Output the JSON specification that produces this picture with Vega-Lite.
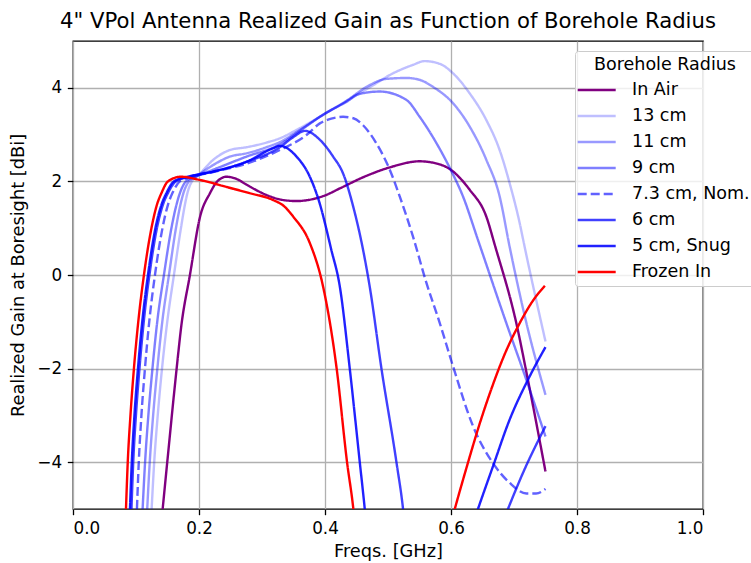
{
  "$schema": "https://vega.github.io/schema/vega-lite/v6.json",
  "width": 630,
  "height": 468,
  "autosize": {"type": "none"},
  "padding": {"left": 73, "top": 41, "right": 48, "bottom": 54},
  "background": "white",
  "title": {
    "text": "4\" VPol Antenna Realized Gain as Function of Borehole Radius",
    "font": "DejaVu Sans",
    "fontSize": 21.2,
    "fontWeight": "normal",
    "color": "black",
    "anchor": "middle",
    "offset": 9
  },
  "config": {
    "view": {"stroke": "black", "strokeWidth": 1.3},
    "axis": {
      "domain": false,
      "grid": true,
      "gridColor": "#b0b0b0",
      "gridWidth": 1.3,
      "ticks": true,
      "tickColor": "black",
      "tickWidth": 1.3,
      "tickSize": 5.7,
      "labelFont": "DejaVu Sans",
      "labelFontSize": 16.8,
      "labelColor": "black",
      "labelPadding": 5.7,
      "titleFont": "DejaVu Sans",
      "titleFontSize": 17.8,
      "titleFontWeight": "normal",
      "titleColor": "black"
    },
    "legend": {
      "orient": "none",
      "legendX": 502,
      "legendY": 10,
      "fillColor": "rgba(255,255,255,0.8)",
      "strokeColor": "#cccccc",
      "cornerRadius": 3,
      "padding": 5,
      "titleFont": "DejaVu Sans",
      "titleFontSize": 17.5,
      "titleFontWeight": "normal",
      "titleColor": "black",
      "titleAnchor": "middle",
      "titlePadding": 5.5,
      "labelFont": "DejaVu Sans",
      "labelFontSize": 17.5,
      "labelColor": "black",
      "labelOffset": 30,
      "symbolType": "M-1.4,0H2.6",
      "symbolSize": 361,
      "symbolStrokeWidth": 2.4,
      "rowPadding": 6.0
    }
  },
  "data": {
    "values": [
      {"s": "In Air", "f": 0.1423, "g": -5.0},
      {"s": "In Air", "f": 0.1496, "g": -4.0},
      {"s": "In Air", "f": 0.1645, "g": -2.0},
      {"s": "In Air", "f": 0.1718, "g": -1.1},
      {"s": "In Air", "f": 0.1856, "g": 0.0},
      {"s": "In Air", "f": 0.2016, "g": 1.24},
      {"s": "In Air", "f": 0.2175, "g": 1.75},
      {"s": "In Air", "f": 0.229, "g": 2.0},
      {"s": "In Air", "f": 0.2438, "g": 2.1},
      {"s": "In Air", "f": 0.26, "g": 2.05},
      {"s": "In Air", "f": 0.2755, "g": 1.93},
      {"s": "In Air", "f": 0.307, "g": 1.71},
      {"s": "In Air", "f": 0.33, "g": 1.61},
      {"s": "In Air", "f": 0.355, "g": 1.58},
      {"s": "In Air", "f": 0.38, "g": 1.62},
      {"s": "In Air", "f": 0.4, "g": 1.7},
      {"s": "In Air", "f": 0.4235, "g": 1.85},
      {"s": "In Air", "f": 0.466, "g": 2.12},
      {"s": "In Air", "f": 0.508, "g": 2.32},
      {"s": "In Air", "f": 0.55, "g": 2.43},
      {"s": "In Air", "f": 0.5714, "g": 2.4},
      {"s": "In Air", "f": 0.5995, "g": 2.25},
      {"s": "In Air", "f": 0.6297, "g": 1.82},
      {"s": "In Air", "f": 0.656, "g": 1.25},
      {"s": "In Air", "f": 0.67, "g": 0.62},
      {"s": "In Air", "f": 0.7037, "g": -1.03},
      {"s": "In Air", "f": 0.7221, "g": -2.24},
      {"s": "In Air", "f": 0.75, "g": -4.2},

      {"s": "13 cm", "f": 0.1248, "g": -5.0},
      {"s": "13 cm", "f": 0.1289, "g": -4.0},
      {"s": "13 cm", "f": 0.1345, "g": -3.0},
      {"s": "13 cm", "f": 0.1413, "g": -2.0},
      {"s": "13 cm", "f": 0.1496, "g": -1.0},
      {"s": "13 cm", "f": 0.1602, "g": 0.0},
      {"s": "13 cm", "f": 0.1713, "g": 1.0},
      {"s": "13 cm", "f": 0.1776, "g": 1.5},
      {"s": "13 cm", "f": 0.1816, "g": 1.75},
      {"s": "13 cm", "f": 0.1887, "g": 2.0},
      {"s": "13 cm", "f": 0.1983, "g": 2.12},
      {"s": "13 cm", "f": 0.2225, "g": 2.46},
      {"s": "13 cm", "f": 0.249, "g": 2.67},
      {"s": "13 cm", "f": 0.2755, "g": 2.73},
      {"s": "13 cm", "f": 0.307, "g": 2.83},
      {"s": "13 cm", "f": 0.3283, "g": 2.92},
      {"s": "13 cm", "f": 0.3548, "g": 3.1},
      {"s": "13 cm", "f": 0.3918, "g": 3.38},
      {"s": "13 cm", "f": 0.4235, "g": 3.63},
      {"s": "13 cm", "f": 0.4446, "g": 3.81},
      {"s": "13 cm", "f": 0.466, "g": 3.97},
      {"s": "13 cm", "f": 0.508, "g": 4.31},
      {"s": "13 cm", "f": 0.5397, "g": 4.49},
      {"s": "13 cm", "f": 0.558, "g": 4.57},
      {"s": "13 cm", "f": 0.5825, "g": 4.51},
      {"s": "13 cm", "f": 0.6032, "g": 4.31},
      {"s": "13 cm", "f": 0.6297, "g": 3.88},
      {"s": "13 cm", "f": 0.6561, "g": 3.31},
      {"s": "13 cm", "f": 0.6772, "g": 2.67},
      {"s": "13 cm", "f": 0.6931, "g": 1.96},
      {"s": "13 cm", "f": 0.709, "g": 1.11},
      {"s": "13 cm", "f": 0.7169, "g": 0.6},
      {"s": "13 cm", "f": 0.75, "g": -1.42},

      {"s": "11 cm", "f": 0.1178, "g": -5.0},
      {"s": "11 cm", "f": 0.1218, "g": -4.0},
      {"s": "11 cm", "f": 0.1272, "g": -3.0},
      {"s": "11 cm", "f": 0.1339, "g": -2.0},
      {"s": "11 cm", "f": 0.1417, "g": -1.0},
      {"s": "11 cm", "f": 0.1523, "g": 0.0},
      {"s": "11 cm", "f": 0.1634, "g": 1.0},
      {"s": "11 cm", "f": 0.1705, "g": 1.5},
      {"s": "11 cm", "f": 0.1753, "g": 1.75},
      {"s": "11 cm", "f": 0.184, "g": 2.0},
      {"s": "11 cm", "f": 0.1951, "g": 2.1},
      {"s": "11 cm", "f": 0.2225, "g": 2.35},
      {"s": "11 cm", "f": 0.249, "g": 2.53},
      {"s": "11 cm", "f": 0.2755, "g": 2.6},
      {"s": "11 cm", "f": 0.307, "g": 2.73},
      {"s": "11 cm", "f": 0.3283, "g": 2.84},
      {"s": "11 cm", "f": 0.36, "g": 3.1},
      {"s": "11 cm", "f": 0.4, "g": 3.45},
      {"s": "11 cm", "f": 0.434, "g": 3.72},
      {"s": "11 cm", "f": 0.466, "g": 4.02},
      {"s": "11 cm", "f": 0.4975, "g": 4.19},
      {"s": "11 cm", "f": 0.5293, "g": 4.21},
      {"s": "11 cm", "f": 0.5503, "g": 4.17},
      {"s": "11 cm", "f": 0.5714, "g": 4.02},
      {"s": "11 cm", "f": 0.6032, "g": 3.67},
      {"s": "11 cm", "f": 0.6297, "g": 3.17},
      {"s": "11 cm", "f": 0.6561, "g": 2.46},
      {"s": "11 cm", "f": 0.6772, "g": 1.68},
      {"s": "11 cm", "f": 0.6931, "g": 0.6},
      {"s": "11 cm", "f": 0.7196, "g": -1.02},
      {"s": "11 cm", "f": 0.75, "g": -2.56},

      {"s": "9 cm", "f": 0.1105, "g": -5.0},
      {"s": "9 cm", "f": 0.1144, "g": -4.0},
      {"s": "9 cm", "f": 0.1196, "g": -3.0},
      {"s": "9 cm", "f": 0.1261, "g": -2.0},
      {"s": "9 cm", "f": 0.1337, "g": -1.0},
      {"s": "9 cm", "f": 0.1443, "g": 0.0},
      {"s": "9 cm", "f": 0.1562, "g": 1.0},
      {"s": "9 cm", "f": 0.1642, "g": 1.5},
      {"s": "9 cm", "f": 0.1697, "g": 1.75},
      {"s": "9 cm", "f": 0.1792, "g": 2.0},
      {"s": "9 cm", "f": 0.1919, "g": 2.09},
      {"s": "9 cm", "f": 0.2225, "g": 2.25},
      {"s": "9 cm", "f": 0.2755, "g": 2.53},
      {"s": "9 cm", "f": 0.3283, "g": 2.79},
      {"s": "9 cm", "f": 0.36, "g": 3.08},
      {"s": "9 cm", "f": 0.4, "g": 3.45},
      {"s": "9 cm", "f": 0.434, "g": 3.7},
      {"s": "9 cm", "f": 0.455, "g": 3.87},
      {"s": "9 cm", "f": 0.4869, "g": 3.92},
      {"s": "9 cm", "f": 0.5293, "g": 3.74},
      {"s": "9 cm", "f": 0.5503, "g": 3.38},
      {"s": "9 cm", "f": 0.5768, "g": 2.82},
      {"s": "9 cm", "f": 0.5995, "g": 2.25},
      {"s": "9 cm", "f": 0.619, "g": 1.68},
      {"s": "9 cm", "f": 0.6428, "g": 0.75},
      {"s": "9 cm", "f": 0.6879, "g": -1.03},
      {"s": "9 cm", "f": 0.7196, "g": -2.24},
      {"s": "9 cm", "f": 0.75, "g": -3.45},

      {"s": "7.3 cm, Nom.", "f": 0.1015, "g": -5.0},
      {"s": "7.3 cm, Nom.", "f": 0.1044, "g": -4.0},
      {"s": "7.3 cm, Nom.", "f": 0.1086, "g": -3.0},
      {"s": "7.3 cm, Nom.", "f": 0.1142, "g": -2.0},
      {"s": "7.3 cm, Nom.", "f": 0.121, "g": -1.0},
      {"s": "7.3 cm, Nom.", "f": 0.1301, "g": 0.0},
      {"s": "7.3 cm, Nom.", "f": 0.142, "g": 1.0},
      {"s": "7.3 cm, Nom.", "f": 0.1507, "g": 1.5},
      {"s": "7.3 cm, Nom.", "f": 0.1578, "g": 1.75},
      {"s": "7.3 cm, Nom.", "f": 0.1697, "g": 2.0},
      {"s": "7.3 cm, Nom.", "f": 0.1903, "g": 2.1},
      {"s": "7.3 cm, Nom.", "f": 0.2225, "g": 2.2},
      {"s": "7.3 cm, Nom.", "f": 0.2755, "g": 2.38},
      {"s": "7.3 cm, Nom.", "f": 0.3283, "g": 2.67},
      {"s": "7.3 cm, Nom.", "f": 0.3706, "g": 2.99},
      {"s": "7.3 cm, Nom.", "f": 0.3918, "g": 3.24},
      {"s": "7.3 cm, Nom.", "f": 0.41, "g": 3.34},
      {"s": "7.3 cm, Nom.", "f": 0.4287, "g": 3.38},
      {"s": "7.3 cm, Nom.", "f": 0.445, "g": 3.35},
      {"s": "7.3 cm, Nom.", "f": 0.4604, "g": 3.2},
      {"s": "7.3 cm, Nom.", "f": 0.4817, "g": 2.81},
      {"s": "7.3 cm, Nom.", "f": 0.5028, "g": 2.25},
      {"s": "7.3 cm, Nom.", "f": 0.5186, "g": 1.68},
      {"s": "7.3 cm, Nom.", "f": 0.5397, "g": 0.82},
      {"s": "7.3 cm, Nom.", "f": 0.561, "g": -0.17},
      {"s": "7.3 cm, Nom.", "f": 0.5813, "g": -0.99},
      {"s": "7.3 cm, Nom.", "f": 0.6032, "g": -1.95},
      {"s": "7.3 cm, Nom.", "f": 0.635, "g": -3.23},
      {"s": "7.3 cm, Nom.", "f": 0.6666, "g": -4.02},
      {"s": "7.3 cm, Nom.", "f": 0.6931, "g": -4.44},
      {"s": "7.3 cm, Nom.", "f": 0.7196, "g": -4.67},
      {"s": "7.3 cm, Nom.", "f": 0.735, "g": -4.67},
      {"s": "7.3 cm, Nom.", "f": 0.75, "g": -4.57},

      {"s": "6 cm", "f": 0.0928, "g": -5.0},
      {"s": "6 cm", "f": 0.0956, "g": -4.0},
      {"s": "6 cm", "f": 0.0999, "g": -3.0},
      {"s": "6 cm", "f": 0.1055, "g": -2.0},
      {"s": "6 cm", "f": 0.1123, "g": -1.0},
      {"s": "6 cm", "f": 0.1213, "g": 0.0},
      {"s": "6 cm", "f": 0.1332, "g": 1.0},
      {"s": "6 cm", "f": 0.1427, "g": 1.5},
      {"s": "6 cm", "f": 0.1507, "g": 1.75},
      {"s": "6 cm", "f": 0.1634, "g": 2.0},
      {"s": "6 cm", "f": 0.1856, "g": 2.1},
      {"s": "6 cm", "f": 0.2225, "g": 2.21},
      {"s": "6 cm", "f": 0.2755, "g": 2.42},
      {"s": "6 cm", "f": 0.3283, "g": 2.73},
      {"s": "6 cm", "f": 0.35, "g": 2.95},
      {"s": "6 cm", "f": 0.368, "g": 3.08},
      {"s": "6 cm", "f": 0.3918, "g": 2.89},
      {"s": "6 cm", "f": 0.4129, "g": 2.53},
      {"s": "6 cm", "f": 0.4287, "g": 2.17},
      {"s": "6 cm", "f": 0.445, "g": 1.45},
      {"s": "6 cm", "f": 0.4604, "g": 0.54},
      {"s": "6 cm", "f": 0.471, "g": -0.25},
      {"s": "6 cm", "f": 0.4896, "g": -2.0},
      {"s": "6 cm", "f": 0.5134, "g": -4.0},
      {"s": "6 cm", "f": 0.5239, "g": -5.0},
      {"s": "6 cm", "f": 0.533, "g": -6.3},
      {"s": "6 cm", "f": 0.653, "g": -6.3},
      {"s": "6 cm", "f": 0.6904, "g": -5.0},
      {"s": "6 cm", "f": 0.7142, "g": -4.23},
      {"s": "6 cm", "f": 0.75, "g": -3.23},

      {"s": "5 cm, Snug", "f": 0.0904, "g": -5.0},
      {"s": "5 cm, Snug", "f": 0.0933, "g": -4.0},
      {"s": "5 cm, Snug", "f": 0.0975, "g": -3.0},
      {"s": "5 cm, Snug", "f": 0.1031, "g": -2.0},
      {"s": "5 cm, Snug", "f": 0.1099, "g": -1.0},
      {"s": "5 cm, Snug", "f": 0.119, "g": 0.0},
      {"s": "5 cm, Snug", "f": 0.1308, "g": 1.0},
      {"s": "5 cm, Snug", "f": 0.1404, "g": 1.5},
      {"s": "5 cm, Snug", "f": 0.1483, "g": 1.75},
      {"s": "5 cm, Snug", "f": 0.1602, "g": 2.0},
      {"s": "5 cm, Snug", "f": 0.1824, "g": 2.1},
      {"s": "5 cm, Snug", "f": 0.2225, "g": 2.21},
      {"s": "5 cm, Snug", "f": 0.2755, "g": 2.42},
      {"s": "5 cm, Snug", "f": 0.3177, "g": 2.71},
      {"s": "5 cm, Snug", "f": 0.3283, "g": 2.76},
      {"s": "5 cm, Snug", "f": 0.3548, "g": 2.53},
      {"s": "5 cm, Snug", "f": 0.3759, "g": 2.1},
      {"s": "5 cm, Snug", "f": 0.39, "g": 1.6},
      {"s": "5 cm, Snug", "f": 0.41, "g": 0.54},
      {"s": "5 cm, Snug", "f": 0.4235, "g": -0.245},
      {"s": "5 cm, Snug", "f": 0.4393, "g": -2.0},
      {"s": "5 cm, Snug", "f": 0.4552, "g": -4.0},
      {"s": "5 cm, Snug", "f": 0.4631, "g": -5.0},
      {"s": "5 cm, Snug", "f": 0.471, "g": -6.2},
      {"s": "5 cm, Snug", "f": 0.613, "g": -6.2},
      {"s": "5 cm, Snug", "f": 0.6428, "g": -5.0},
      {"s": "5 cm, Snug", "f": 0.6666, "g": -4.09},
      {"s": "5 cm, Snug", "f": 0.6931, "g": -3.09},
      {"s": "5 cm, Snug", "f": 0.7221, "g": -2.24},
      {"s": "5 cm, Snug", "f": 0.75, "g": -1.54},

      {"s": "Frozen In", "f": 0.0841, "g": -5.0},
      {"s": "Frozen In", "f": 0.0869, "g": -4.0},
      {"s": "Frozen In", "f": 0.0912, "g": -3.0},
      {"s": "Frozen In", "f": 0.0967, "g": -2.0},
      {"s": "Frozen In", "f": 0.1036, "g": -1.0},
      {"s": "Frozen In", "f": 0.1126, "g": 0.0},
      {"s": "Frozen In", "f": 0.1245, "g": 1.0},
      {"s": "Frozen In", "f": 0.1332, "g": 1.5},
      {"s": "Frozen In", "f": 0.1404, "g": 1.75},
      {"s": "Frozen In", "f": 0.1507, "g": 2.0},
      {"s": "Frozen In", "f": 0.1713, "g": 2.1},
      {"s": "Frozen In", "f": 0.2016, "g": 2.03},
      {"s": "Frozen In", "f": 0.244, "g": 1.88},
      {"s": "Frozen In", "f": 0.28, "g": 1.75},
      {"s": "Frozen In", "f": 0.318, "g": 1.6},
      {"s": "Frozen In", "f": 0.335, "g": 1.47},
      {"s": "Frozen In", "f": 0.35, "g": 1.24},
      {"s": "Frozen In", "f": 0.376, "g": 0.68},
      {"s": "Frozen In", "f": 0.397, "g": -0.25},
      {"s": "Frozen In", "f": 0.4185, "g": -2.0},
      {"s": "Frozen In", "f": 0.435, "g": -4.0},
      {"s": "Frozen In", "f": 0.445, "g": -5.0},
      {"s": "Frozen In", "f": 0.455, "g": -6.5},
      {"s": "Frozen In", "f": 0.577, "g": -6.5},
      {"s": "Frozen In", "f": 0.606, "g": -5.0},
      {"s": "Frozen In", "f": 0.625, "g": -4.1},
      {"s": "Frozen In", "f": 0.645, "g": -3.2},
      {"s": "Frozen In", "f": 0.665, "g": -2.4},
      {"s": "Frozen In", "f": 0.685, "g": -1.7},
      {"s": "Frozen In", "f": 0.709, "g": -1.03},
      {"s": "Frozen In", "f": 0.73, "g": -0.55},
      {"s": "Frozen In", "f": 0.749, "g": -0.23}
    ]
  },
  "mark": {"type": "line", "clip": true, "strokeWidth": 2.4, "interpolate": "monotone"},
  "encoding": {
    "x": {
      "field": "f",
      "type": "quantitative",
      "scale": {"domain": [0, 1], "nice": false, "zero": false},
      "axis": {
        "title": "Freqs. [GHz]",
        "values": [0, 0.2, 0.4, 0.6, 0.8, 1.0],
        "format": ".1f",
        "titlePadding": 5
      }
    },
    "y": {
      "field": "g",
      "type": "quantitative",
      "scale": {"domain": [-5, 5], "nice": false, "zero": false},
      "axis": {
        "title": "Realized Gain at Boresight [dBi]",
        "values": [-4, -2, 0, 2, 4],
        "labelExpr": "replace(datum.label, '-', '−')",
        "titlePadding": 9
      }
    },
    "color": {
      "field": "s",
      "type": "nominal",
      "sort": null,
      "scale": {
        "domain": ["In Air", "13 cm", "11 cm", "9 cm", "7.3 cm, Nom.", "6 cm", "5 cm, Snug", "Frozen In"],
        "range": ["#800080", "rgba(0,0,255,0.25)", "rgba(0,0,255,0.4)", "rgba(0,0,255,0.5)", "rgba(0,0,255,0.62)", "rgba(0,0,255,0.75)", "rgba(0,0,255,0.87)", "#ff0000"]
      },
      "legend": {"title": "Borehole Radius"}
    },
    "strokeDash": {
      "field": "s",
      "type": "nominal",
      "sort": null,
      "scale": {
        "domain": ["In Air", "13 cm", "11 cm", "9 cm", "7.3 cm, Nom.", "6 cm", "5 cm, Snug", "Frozen In"],
        "range": [[1, 0], [1, 0], [1, 0], [1, 0], [9, 4], [1, 0], [1, 0], [1, 0]]
      },
      "legend": {"title": "Borehole Radius"}
    }
  }
}
